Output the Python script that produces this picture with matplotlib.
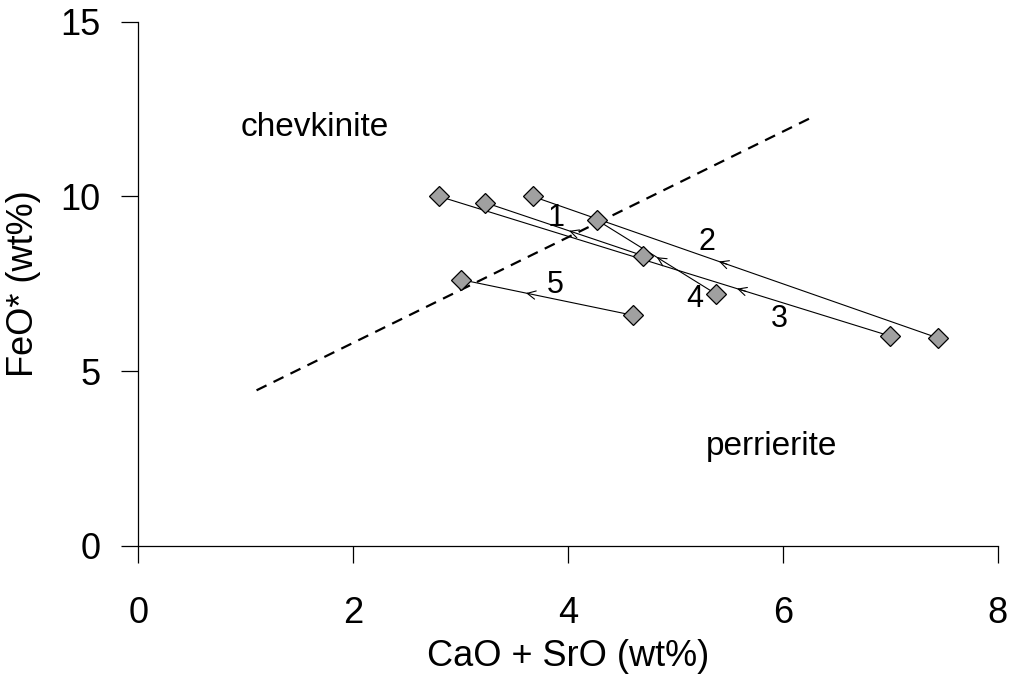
import numpy as np
import matplotlib.pyplot as plt

plt.rcParams['font.family'] = ['Liberation Sans', 'DejaVu Sans']

# --- data: core -> rim pairs (CaO+SrO, FeO*) ---
series_labels = ['1', '2', '3', '4', '5']
x_start = [4.70, 7.44, 7.00, 5.38, 4.60]
y_start = [8.30, 5.95, 6.00, 7.20, 6.60]
x_end = [3.23, 3.67, 2.80, 4.27, 3.00]
y_end = [9.82, 10.00, 10.00, 9.32, 7.62]
arrow_frac = [0.47, 0.54, 0.34, 0.50, 0.62]

# label anchors (baseline)
label_x = [3.89, 5.29, 5.97, 5.18, 3.88]
label_y = [9.14, 8.47, 6.27, 6.84, 7.24]

boundary_x = [1.1, 6.28]
boundary_y = [4.45, 12.28]

fig = plt.figure(figsize=(10.1, 6.78), dpi=100)
ax = fig.add_axes([0.137, 0.195, 0.851, 0.773])

# boundary line
ax.plot(boundary_x, boundary_y, color='black', lw=1.6, ls=(0, (5, 3.5)), zorder=1)

for i in range(len(series_labels)):
    xs = [x_start[i], x_end[i]]
    ys = [y_start[i], y_end[i]]
    ax.plot(xs, ys, color='black', lw=0.8, zorder=2)
    # arrowhead along the segment
    f = arrow_frac[i]
    ax_ = x_start[i] + f * (x_end[i] - x_start[i])
    ay_ = y_start[i] + f * (y_end[i] - y_start[i])
    bx = x_start[i] + (f - 0.02) * (x_end[i] - x_start[i])
    by = y_start[i] + (f - 0.02) * (y_end[i] - y_start[i])
    ax.annotate('', xy=(ax_, ay_), xytext=(bx, by),
                arrowprops=dict(arrowstyle='->', lw=0.8, color='black',
                                mutation_scale=15, shrinkA=0, shrinkB=0),
                zorder=3)
    ax.plot(xs, ys, ls='none', marker='D', markersize=10, markerfacecolor='#a0a0a0',
            markeredgecolor='black', markeredgewidth=0.9, zorder=4)
    ax.text(label_x[i], label_y[i], series_labels[i], fontsize=22,
            ha='center', va='baseline', zorder=5)

ax.text(1.64, 11.72, 'chevkinite', fontsize=24, ha='center', va='baseline')
ax.text(5.89, 2.6, 'perrierite', fontsize=24, ha='center', va='baseline')

ax.set_xlim(0, 8)
ax.set_ylim(0, 15)
ax.set_xticks([0, 2, 4, 6, 8])
ax.set_yticks([0, 5, 10, 15])
ax.spines['top'].set_visible(False)
ax.spines['right'].set_visible(False)
for s in ['left', 'bottom']:
    ax.spines[s].set_linewidth(0.9)
ax.tick_params(direction='out', length=12, width=0.9, labelsize=26)
ax.tick_params(axis='x', pad=24)
ax.tick_params(axis='y', pad=15)
ax.set_xlabel('CaO + SrO (wt%)', fontsize=26, labelpad=6)
ax.set_ylabel('FeO* (wt%)', fontsize=26, labelpad=14)

plt.savefig('out.png', dpi=100)
